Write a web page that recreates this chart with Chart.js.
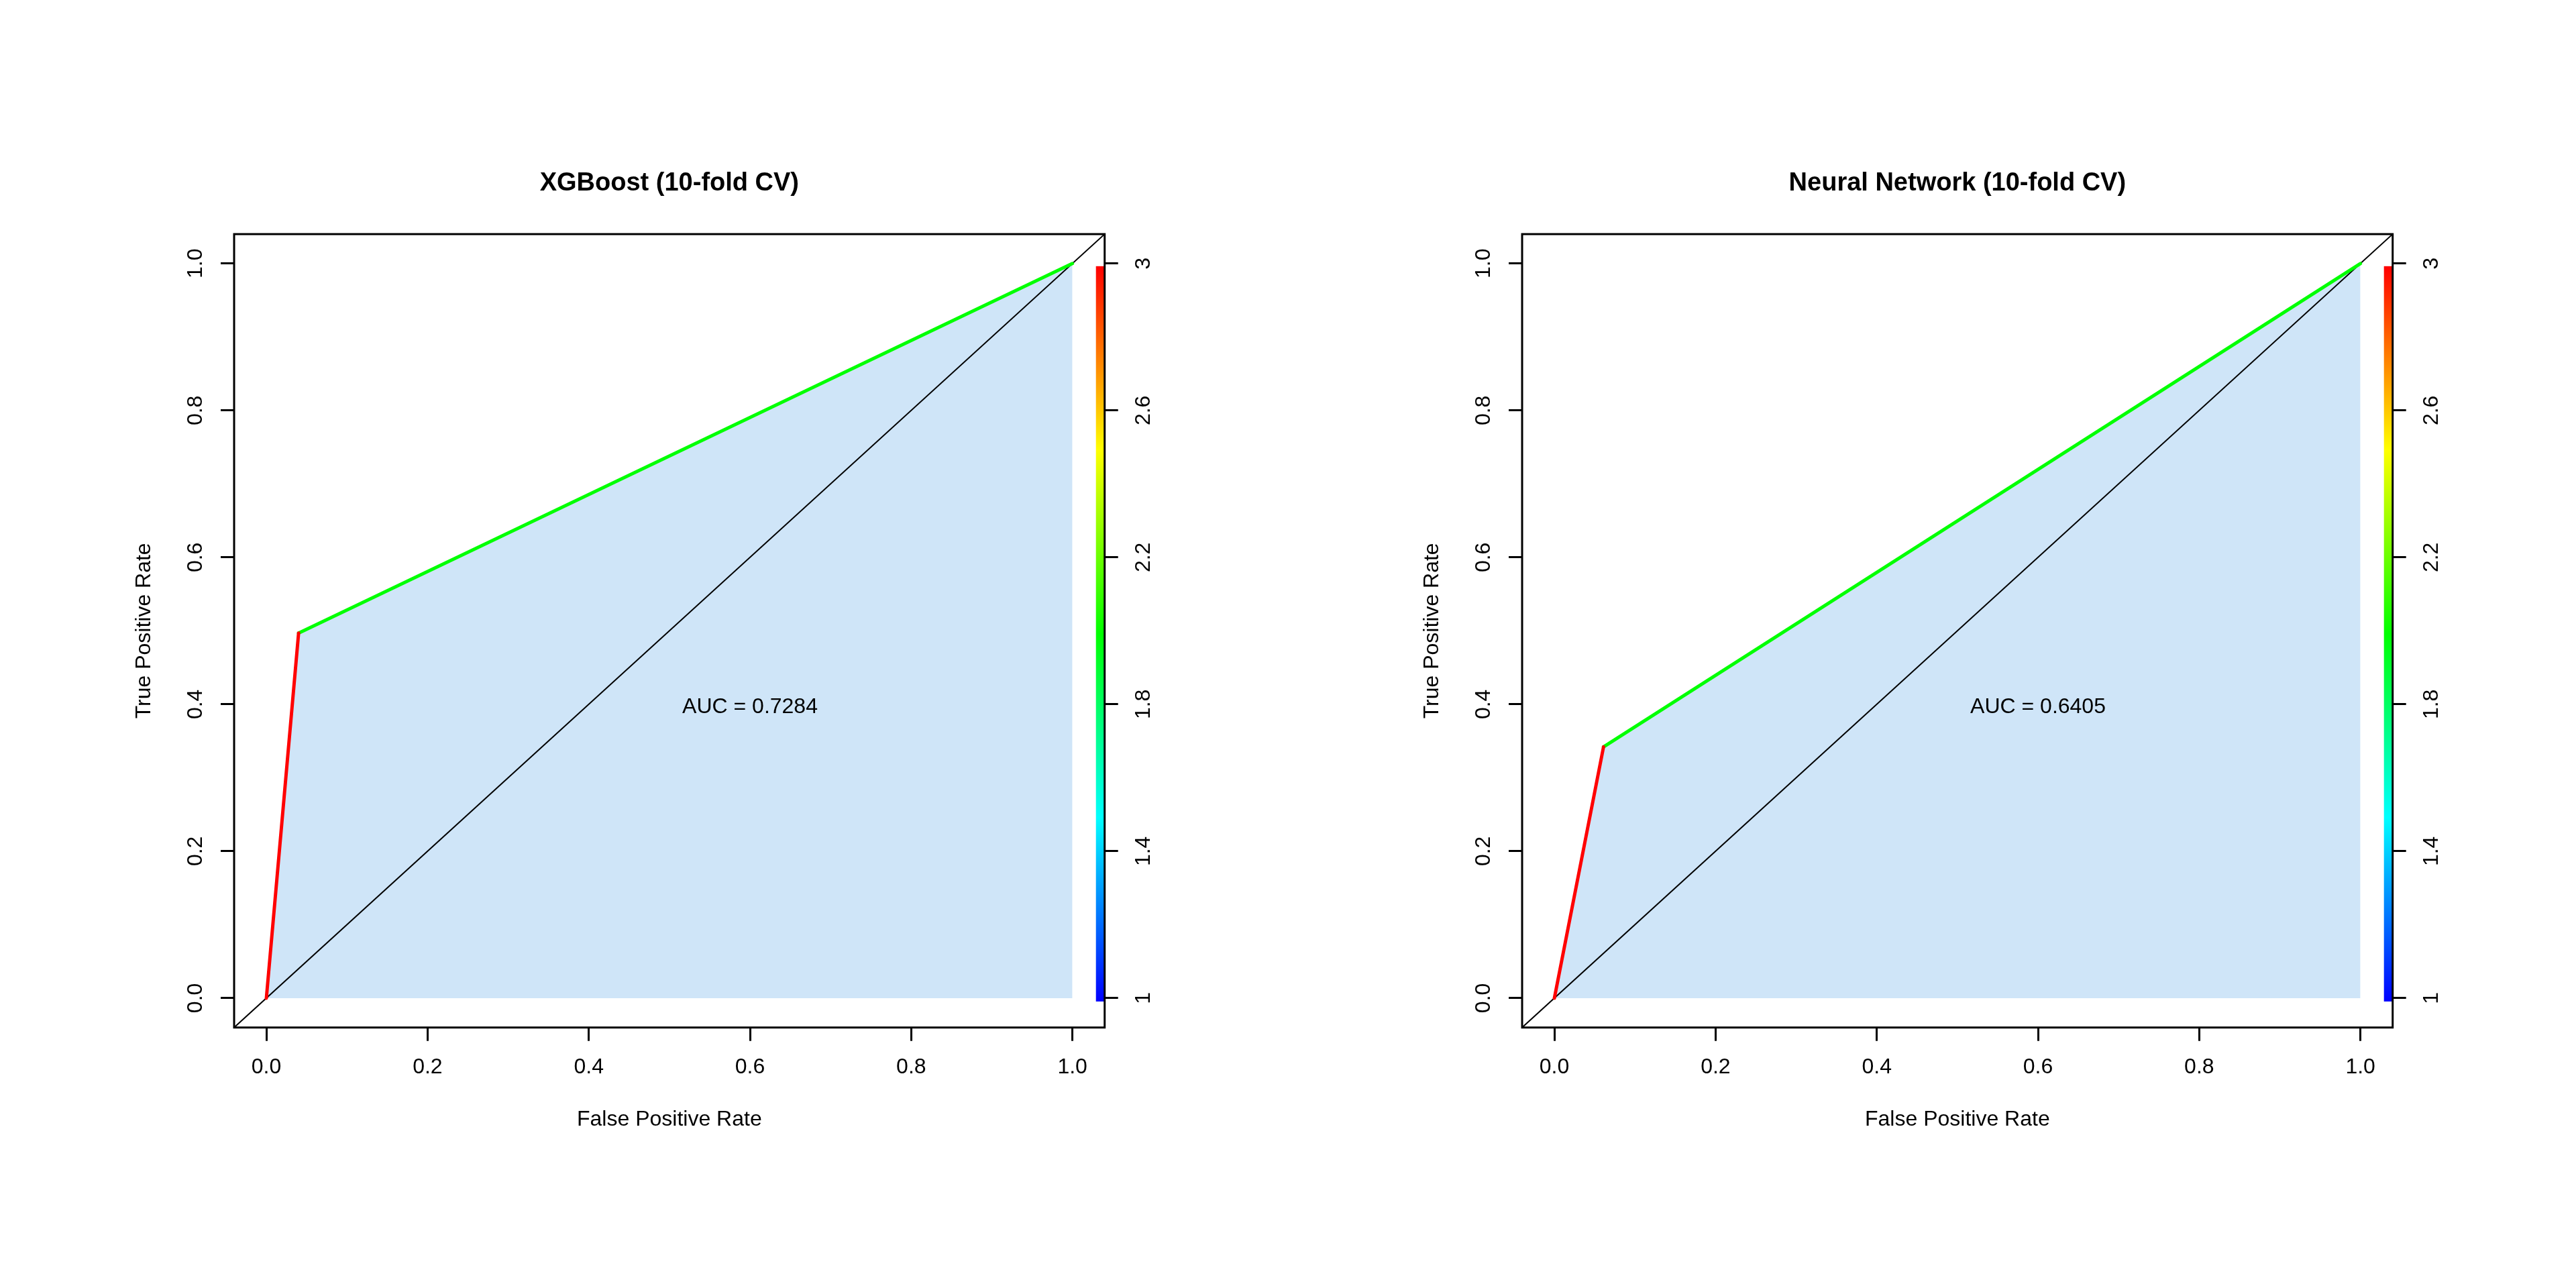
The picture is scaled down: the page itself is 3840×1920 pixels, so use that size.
<!DOCTYPE html>
<html>
<head>
<meta charset="utf-8">
<script src="https://cdn.jsdelivr.net/npm/chart.js@4.4.1/dist/chart.umd.min.js"></script>
<style>
  html, body { margin: 0; padding: 0; background: #fff; }
  #wrap { display: flex; width: 3840px; height: 1920px; }
  .cell { position: relative; width: 1920px; height: 1920px; }
</style>
</head>
<body>
<div id="wrap">
  <div class="cell"><canvas id="rocXgb"></canvas></div>
  <div class="cell"><canvas id="rocNn"></canvas></div>
</div>
<script>
// valores
const modelTitles = ['XGBoost (10-fold CV)', 'Neural Network (10-fold CV)'];
const fprValues = [[0, 0.040, 1], [0, 0.061, 1]];
const tprValues = [[0, 0.497, 1], [0, 0.342, 1]];
const segmentCutoffs = [[3, 2], [3, 2]];
const aucValues = [0.7284, 0.6405];
const rateTicks = [0, 0.2, 0.4, 0.6, 0.8, 1];
const cutoffTicks = [1, 1.4, 1.8, 2.2, 2.6, 3];

const FONT = '"Liberation Sans", Arial, Helvetica, sans-serif';
const FILL_COLOR = 'rgb(207, 229, 248)';
Chart.defaults.font.family = FONT;
Chart.defaults.color = '#000';

// paleta rainbow invertida (azul = 1, rojo = 3)
const cutoffColor = (v) => {
    const hue = (3 - v) / 2 * 240;
    return `hsl(${hue}, 100%, 50%)`;
};

const setTicks = (values) => (scale) => {
    scale.ticks = values.map(v => ({ value: v }));
};

const tickGrid = {
    display: true,
    drawOnChartArea: false,
    drawTicks: true,
    tickLength: 20,
    lineWidth: 3,
    color: '#000'
};

const rocPlugin = {
    id: 'rocExtras',
    afterDatasetsDraw(chart) {
        const { ctx, chartArea, scales } = chart;
        const idx = chart.options.plugins.rocExtras.index;

        // barra de color de los cortes
        const yTop = scales.y2.getPixelForValue(3) + 4;
        const yBot = scales.y2.getPixelForValue(1) + 5;
        const grad = ctx.createLinearGradient(0, yBot, 0, yTop);
        grad.addColorStop(0, cutoffColor(1));
        grad.addColorStop(0.25, cutoffColor(1.5));
        grad.addColorStop(0.5, cutoffColor(2));
        grad.addColorStop(0.75, cutoffColor(2.5));
        grad.addColorStop(1, cutoffColor(3));
        ctx.save();
        ctx.fillStyle = grad;
        ctx.fillRect(chartArea.right - 13, yTop, 13, yBot - yTop);

        // texto del AUC
        ctx.font = `32px ${FONT}`;
        ctx.fillStyle = '#000';
        ctx.textAlign = 'center';
        ctx.textBaseline = 'middle';
        ctx.fillText(`AUC = ${aucValues[idx].toFixed(4)}`,
            scales.x.getPixelForValue(0.6), scales.y.getPixelForValue(0.4) + 4);

        // marco
        ctx.strokeStyle = '#000';
        ctx.lineWidth = 3;
        ctx.strokeRect(chartArea.left, chartArea.top,
            chartArea.right - chartArea.left, chartArea.bottom - chartArea.top);
        ctx.restore();
    }
};

const buildChart = (canvasId, idx) => {
    const pts = fprValues[idx].map((x, i) => ({ x: x, y: tprValues[idx][i] }));
    const datasets = [
        {
            label: 'area',
            data: pts,
            showLine: true,
            borderWidth: 0,
            backgroundColor: FILL_COLOR,
            fill: 'origin',
            pointRadius: 0,
            order: 3
        },
        {
            label: 'diagonal',
            data: [{ x: -0.04, y: -0.04 }, { x: 1.04, y: 1.04 }],
            showLine: true,
            borderColor: '#000',
            borderWidth: 2,
            pointRadius: 0,
            order: 2
        }
    ];
    segmentCutoffs[idx].forEach((c, i) => {
        datasets.push({
            label: 'corte ' + c,
            data: [pts[i], pts[i + 1]],
            showLine: true,
            borderColor: cutoffColor(c),
            borderWidth: 5,
            borderCapStyle: 'round',
            pointRadius: 0,
            order: 1
        });
    });

    return new Chart(document.getElementById(canvasId), {
        type: 'scatter',
        data: { datasets: datasets },
        plugins: [rocPlugin],
        options: {
            responsive: true,
            maintainAspectRatio: false,
            devicePixelRatio: 1,
            animation: false,
            layout: { padding: 0 },
            plugins: {
                legend: { display: false },
                tooltip: { enabled: false },
                rocExtras: { index: idx },
                title: {
                    display: true,
                    text: modelTitles[idx],
                    fullSize: false,
                    color: '#000',
                    font: { size: 38, weight: 'bold' },
                    padding: { top: 251, bottom: 52.4 }
                }
            },
            scales: {
                x: {
                    type: 'linear',
                    position: 'bottom',
                    min: -0.04,
                    max: 1.04,
                    afterBuildTicks: setTicks(rateTicks),
                    afterFit: (s) => { s.height = 388.3; },
                    grid: tickGrid,
                    border: { display: false },
                    ticks: {
                        font: { size: 32 },
                        padding: 20,
                        maxRotation: 0,
                        callback: (v) => v.toFixed(1)
                    },
                    title: {
                        display: true,
                        text: 'False Positive Rate',
                        font: { size: 32 },
                        padding: { top: 0, bottom: 232 }
                    }
                },
                y: {
                    type: 'linear',
                    position: 'left',
                    min: -0.04,
                    max: 1.04,
                    afterBuildTicks: setTicks(rateTicks),
                    afterFit: (s) => { s.width = 349; },
                    grid: tickGrid,
                    border: { display: false },
                    ticks: {
                        font: { size: 32 },
                        padding: 15,
                        minRotation: 90,
                        maxRotation: 90,
                        crossAlign: 'center',
                        callback: (v) => v.toFixed(1)
                    },
                    title: {
                        display: true,
                        text: 'True Positive Rate',
                        font: { size: 32 },
                        padding: { top: 196, bottom: 0 }
                    }
                },
                y2: {
                    type: 'linear',
                    position: 'right',
                    min: 0.92,
                    max: 3.08,
                    afterBuildTicks: setTicks(cutoffTicks),
                    afterFit: (s) => { s.width = 273.3; },
                    grid: tickGrid,
                    border: { display: false },
                    ticks: {
                        font: { size: 32 },
                        padding: 16.5,
                        minRotation: 90,
                        maxRotation: 90,
                        crossAlign: 'center',
                        callback: (v) => String(Math.round(v * 10) / 10)
                    }
                }
            }
        }
    });
};

buildChart('rocXgb', 0);
buildChart('rocNn', 1);
</script>
</body>
</html>
